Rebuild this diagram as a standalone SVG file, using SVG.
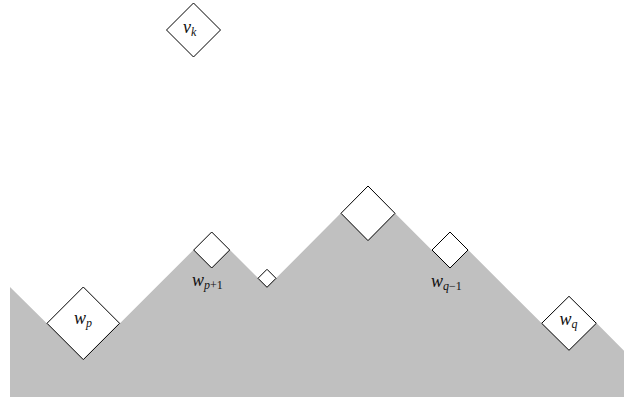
<svg xmlns="http://www.w3.org/2000/svg" width="624" height="398" viewBox="0 0 624 398">
<style>
.d{fill:#fff;stroke:#000;stroke-width:1;stroke-linejoin:miter}
.t{font-family:"Liberation Serif","DejaVu Serif",serif;font-style:italic;font-size:18px;fill:#111}
.s{font-size:12px}
.n{font-style:normal}
</style>
<rect width="624" height="398" fill="#fff"/>
<polygon fill="#c0c0c0" points="10,287 46.7,323.3 120,323.3 193.3,250 230,250 258.3,278.3 276,278.3 340.7,213.3 395,213.3 431.7,250 468.3,250 541.7,323.3 596.7,323.3 624,350.7 624,397 10,397"/>
<g id="vk">
<polygon class="d" points="193.5,3 220.5,30 193.5,57 166.5,30"/>
<text class="t" x="183" y="33">v<tspan class="s" dy="3">k</tspan></text>
</g>
<g id="wp">
<polygon class="d" points="83.3,287 119.6,323.3 83.3,359.6 47,323.3"/>
<text class="t" x="74" y="324">w<tspan class="s" dy="3">p</tspan></text>
</g>
<g id="wp1">
<polygon class="d" points="211.7,232 229.7,250 211.7,268 193.7,250"/>
<text class="t" x="192" y="286">w<tspan class="s" dy="3">p<tspan class="n">+1</tspan></tspan></text>
</g>
<g id="small">
<polygon class="d" points="267,269.3 276,278.3 267,287.3 258,278.3"/>
</g>
<g id="top">
<polygon class="d" points="368,186 395,213.3 368,240.6 341,213.3"/>
</g>
<g id="wq1">
<polygon class="d" points="450,232 468,250 450,268 432,250"/>
<text class="t" x="431" y="287">w<tspan class="s" dy="3">q<tspan class="n">−1</tspan></tspan></text>
</g>
<g id="wq">
<polygon class="d" points="569,296.3 596.3,323.3 569,350.3 541.7,323.3"/>
<text class="t" x="559.5" y="325">w<tspan class="s" dy="3">q</tspan></text>
</g>
</svg>
